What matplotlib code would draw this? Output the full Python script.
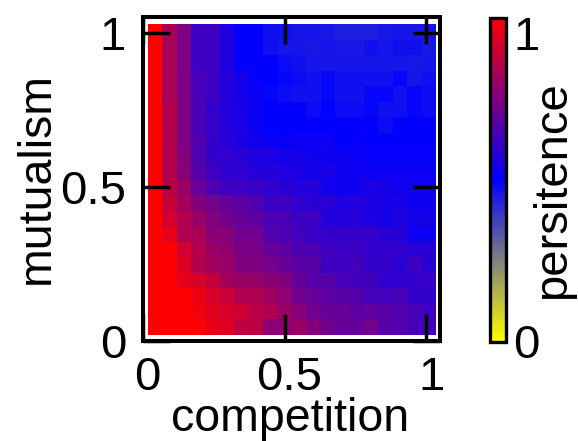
import numpy as np
import matplotlib
matplotlib.use("Agg")
import matplotlib.pyplot as plt
from matplotlib.colors import LinearSegmentedColormap
from matplotlib.transforms import ScaledTranslation

# persistence, one row per mutualism level, top row first
row_00 = [1, .83, .74, .62, .62, .56, .50, .50, .47, .47, .46, .46, .45, .44, .44, .44, .45, .46, .46, .46]
row_01 = [1, .83, .74, .62, .62, .56, .50, .50, .47, .46, .46, .45, .46, .45, .45, .47, .46, .47, .47, .45]
row_02 = [1, .83, .74, .62, .62, .56, .50, .50, .50, .48, .47, .46, .46, .46, .46, .46, .46, .46, .45, .46]
row_03 = [1, .83, .74, .64, .62, .57, .54, .50, .50, .49, .48, .47, .49, .47, .47, .47, .47, .49, .46, .47]
row_04 = [1, .83, .74, .64, .62, .57, .54, .52, .49, .48, .47, .47, .49, .47, .47, .49, .49, .47, .49, .48]
row_05 = [1, .85, .74, .65, .60, .56, .55, .52, .50, .50, .50, .48, .50, .48, .48, .49, .47, .47, .49, .48]
row_06 = [1, .85, .74, .64, .60, .57, .55, .52, .50, .50, .50, .50, .50, .50, .50, .50, .48, .50, .50, .50]
row_07 = [1, .85, .74, .66, .60, .58, .55, .53, .52, .51, .52, .52, .52, .50, .51, .50, .50, .50, .50, .50]
row_08 = [1, .85, .75, .66, .60, .59, .58, .56, .55, .54, .54, .53, .53, .52, .52, .51, .51, .51, .51, .51]
row_09 = [1, .85, .76, .67, .62, .59, .59, .57, .57, .56, .55, .54, .55, .53, .52, .52, .52, .52, .52, .52]
row_10 = [1, .86, .80, .70, .65, .62, .62, .61, .59, .58, .57, .57, .53, .53, .53, .55, .54, .53, .53, .53]
row_11 = [1, .89, .82, .75, .73, .70, .68, .66, .61, .62, .59, .58, .58, .56, .57, .55, .55, .55, .53, .53]
row_12 = [1, .91, .85, .80, .75, .72, .70, .68, .65, .64, .62, .62, .57, .57, .57, .55, .54, .56, .54, .54]
row_13 = [1, .95, .84, .83, .77, .76, .72, .72, .66, .65, .63, .61, .60, .60, .60, .60, .58, .58, .52, .52]
row_14 = [1, 1, .91, .85, .80, .78, .74, .73, .70, .68, .65, .65, .62, .62, .62, .60, .60, .60, .58, .58]
row_15 = [1, 1, .93, .85, .82, .80, .75, .75, .73, .70, .68, .67, .62, .62, .63, .60, .60, .58, .62, .58]
row_16 = [1, 1, .95, .92, .88, .82, .80, .79, .77, .75, .70, .67, .67, .64, .63, .63, .59, .59, .60, .61]
row_17 = [1, 1, 1, .96, .92, .89, .85, .84, .81, .78, .72, .70, .68, .67, .66, .64, .63, .64, .60, .60]
row_18 = [1, 1, 1, .97, .94, .92, .90, .86, .84, .80, .76, .72, .70, .70, .68, .69, .67, .66, .64, .62]
row_19 = [1, 1, 1, 1, .95, .93, .87, .87, .77, .78, .80, .75, .72, .70, .70, .73, .67, .66, .64, .63]

persistence = np.array([row_00, row_01, row_02, row_03, row_04, row_05, row_06, row_07, row_08, row_09,
                        row_10, row_11, row_12, row_13, row_14, row_15, row_16, row_17, row_18, row_19])

ticks = [0, 0.5, 1]
tick_labels = ["0", "0.5", "1"]

W, H = 578, 441
plt.rcParams["font.family"] = ["Liberation Sans", "DejaVu Sans"]
FS = 34
LW = 2.9

def box(x0, y0, x1, y1):
    return [x0 / W, 1 - y1 / H, (x1 - x0) / W, (y1 - y0) / H]

def shift(dx, dy):
    return ScaledTranslation(dx / 100, dy / 100, fig.dpi_scale_trans)

cmap = LinearSegmentedColormap.from_list("persist", ["#ffff00", "#0000ff", "#ff0000"], N=256)

fig = plt.figure(figsize=(W / 100, H / 100), dpi=100)
ax = fig.add_axes(box(142.7, 17.3, 440, 341))
im = ax.imshow(persistence, cmap=cmap, vmin=0, vmax=1, origin="upper", aspect="auto",
               interpolation="nearest", extent=(0.0176, 1.03, 0.0195, 1.029))
ax.set_xlim(0, 1.048)
ax.set_ylim(0, 1.051)

ax.set_xticks(ticks)
ax.set_xticklabels(tick_labels)
ax.set_yticks(ticks)
ax.set_yticklabels(tick_labels)
ax.tick_params(axis="both", which="both", direction="in", length=19.5, width=2.5,
               top=True, right=True, labelsize=FS, color="black")
ax.tick_params(axis="x", pad=11)
ax.tick_params(axis="y", pad=12)
for lab in ax.get_xticklabels():
    lab.set_transform(lab.get_transform() + shift(5, 0))
for s in ax.spines.values():
    s.set_linewidth(LW)

fig.text(290 / W, 1 - 431 / H, "competition", fontsize=33.5, ha="center", va="baseline")
fig.text(49 / W, 1 - 178 / H, "mutualism", fontsize=33.5, ha="center", va="baseline",
         rotation=90, rotation_mode="anchor")

cax = fig.add_axes(box(490, 17.5, 506, 341.5))
cb = fig.colorbar(im, cax=cax, ticks=[0, 1])
cb.ax.set_yticklabels(["0", "1"])
cb.ax.tick_params(length=0, labelsize=FS, pad=5)
cb.outline.set_linewidth(2.4)
labs = cb.ax.get_yticklabels()
labs[1].set_transform(labs[1].get_transform() + shift(0, -15))
fig.text(565 / W, 1 - 190 / H, "persitence", fontsize=FS, ha="center", va="baseline",
         rotation=90, rotation_mode="anchor")

fig.savefig("out.png", dpi=100)
